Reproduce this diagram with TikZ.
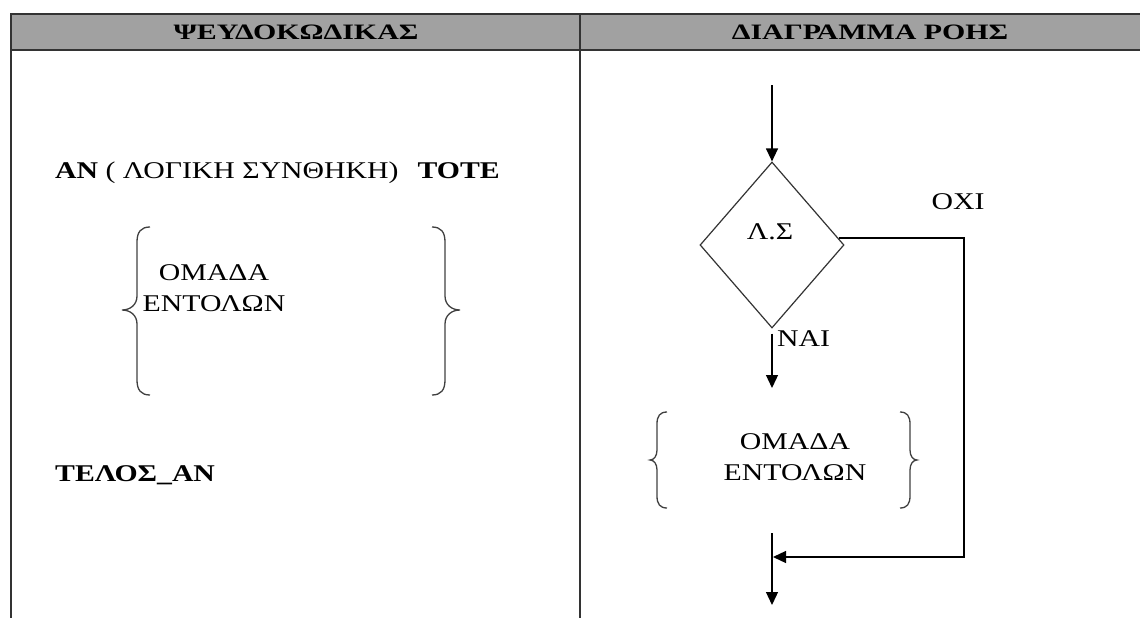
\documentclass[tikz,border=0pt]{standalone}
\usepackage{fontspec}
\setmainfont{Liberation Serif}
\newfontfamily\gr[FakeStretch=1.24]{Liberation Serif}
\newfontfamily\hd[FakeStretch=1.36]{Liberation Serif}
\usetikzlibrary{arrows.meta,shapes.geometric}
\begin{document}
\begin{tikzpicture}[x=1pt,y=-1pt,
  grid/.style={draw=black!80,line width=2pt},
  conn/.style={draw=black,line width=1.3pt},
  arr/.style={conn,-{Triangle[length=13pt,width=12pt]}},
  bracepath/.style={draw=black!75,line width=1.3pt},
  head/.style={font=\hd\bfseries\fontsize{22}{24}\selectfont,inner sep=0pt},
  lbl/.style={font=\gr\fontsize{24}{31}\selectfont,inner sep=0pt},
  dia/.style={draw=black!80,line width=1.2pt,shape=diamond,minimum width=144pt,minimum height=166pt,inner sep=0pt}
  ]
\useasboundingbox (0,0) rectangle (1140,618);
\begin{scope}
  \clip (0,0) rectangle (1140,618);
  \fill[black!37] (11,14.5) rectangle (1150,50);
  \draw[grid] (11,630) -- (11,14.5) -- (1150,14.5);
  \draw[grid] (11,50) -- (1150,50);
  \draw[grid] (580,14.5) -- (580,630);
\end{scope}
% header
\node[head] (h1) at (296,32) {ΨΕΥΔΟΚΩΔΙΚΑΣ};
\node[head] (h2) at (870,32) {ΔΙΑΓΡΑΜΜΑ ΡΟΗΣ};
% left column
\node[lbl,anchor=base west] (cond) at (55,178) {\textbf{ΑΝ} ( ΛΟΓΙΚΗ ΣΥΝΘΗΚΗ)};
\node[lbl,anchor=base east] (tote) at (500,178) {\textbf{ΤΟΤΕ}};
\node[lbl,align=center] (grp1) at (214,288) {ΟΜΑΔΑ\\ΕΝΤΟΛΩΝ};
\node[lbl,anchor=base west] (end) at (55,481) {\textbf{ΤΕΛΟΣ\_ΑΝ}};
\draw[bracepath] (150,227) .. controls (141,227) and (137,232) .. (137,242) -- (137,296)
  .. controls (137,305) and (130,310) .. (122,310) .. controls (130,310) and (137,315) .. (137,324)
  -- (137,380) .. controls (137,390) and (141,395) .. (150,395);
\draw[bracepath] (432,227) .. controls (441,227) and (445,232) .. (445,242) -- (445,296)
  .. controls (445,305) and (452,310) .. (460,310) .. controls (452,310) and (445,315) .. (445,324)
  -- (445,380) .. controls (445,390) and (441,395) .. (432,395);
% right column
\node[dia] (d) at (772,245) {};
\node[lbl] (ls) at (770,232) {Λ.Σ};
\node[lbl] (oxi) at (958,202) {ΟΧΙ};
\node[lbl,anchor=west] (nai) at (777,339) {ΝΑΙ};
\node[lbl,align=center] (grp2) at (795,457) {ΟΜΑΔΑ\\ΕΝΤΟΛΩΝ};
\draw[bracepath] (667,412) .. controls (660,412) and (657,416) .. (657,424) -- (657,450)
  .. controls (657,456) and (654,460) .. (650,460) .. controls (654,460) and (657,464) .. (657,470)
  -- (657,496) .. controls (657,504) and (660,508) .. (667,508);
\draw[bracepath] (900,412) .. controls (907,412) and (910,416) .. (910,424) -- (910,450)
  .. controls (910,456) and (913,460) .. (917,460) .. controls (913,460) and (910,464) .. (910,470)
  -- (910,496) .. controls (910,504) and (907,508) .. (900,508);
\coordinate (in) at (772,85);
\coordinate (nb) at (772,388);
\coordinate (c1) at (964,557);
\coordinate (j) at (773,557);
\coordinate (b1) at (772,533);
\coordinate (b2) at (772,605);
\draw[arr] (in) -- (d.north);
\draw[arr] ([yshift=-5pt]d.south) -- (nb);
\draw[arr] (d.6) -| (c1) -- (j);
\draw[arr] (b1) -- (b2);
\end{tikzpicture}
\end{document}
